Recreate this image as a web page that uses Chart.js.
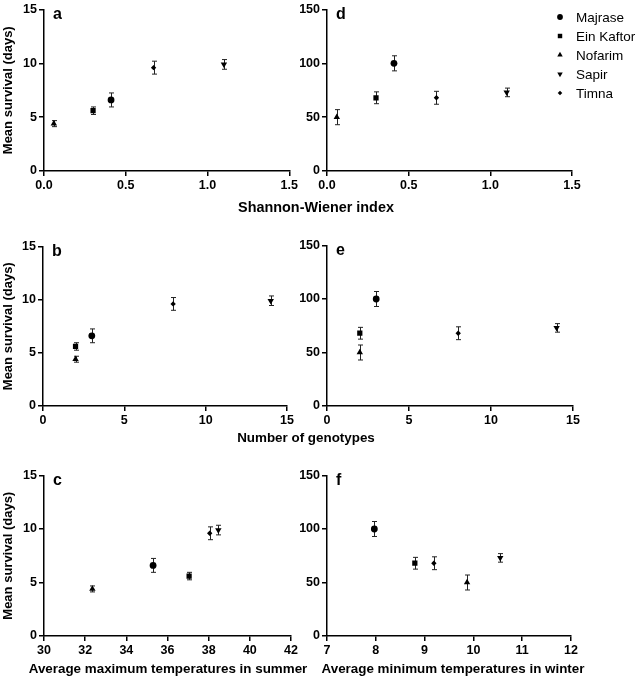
<!DOCTYPE html>
<html>
<head>
<meta charset="utf-8">
<script src="https://cdn.jsdelivr.net/npm/chart.js@4.4.1/dist/chart.umd.min.js"></script>
<style>
  html, body { margin: 0; padding: 0; background: #fff; }
  #wrap { position: relative; width: 638px; height: 678px; overflow: hidden;
          font-family: Arial, "Liberation Sans", Helvetica, sans-serif; }
  #wrap canvas { position: absolute; }
  .xtitle { position: absolute; font-weight: bold; line-height: 16px;
            color: #000; white-space: nowrap; transform: translateX(-50%); }
</style>
</head>
<body>
<div id="wrap">
  <canvas id="pa" width="300" height="200" style="left:0;top:0"></canvas>
  <canvas id="pd" width="348" height="200" style="left:290px;top:0"></canvas>
  <canvas id="pb" width="300" height="198" style="left:0;top:237px"></canvas>
  <canvas id="pe" width="348" height="199" style="left:290px;top:236px"></canvas>
  <canvas id="pc" width="300" height="212" style="left:0;top:466px"></canvas>
  <canvas id="pf" width="348" height="212" style="left:290px;top:466px"></canvas>
  <div class="xtitle" style="left:316px;top:199px;font-size:14.4px">Shannon-Wiener index</div>
  <div class="xtitle" style="left:306px;top:430px;font-size:13.4px">Number of genotypes</div>
  <div class="xtitle" style="left:168px;top:661px;font-size:13.4px">Average maximum temperatures in summer</div>
  <div class="xtitle" style="left:453px;top:661px;font-size:13.4px">Average minimum temperatures in winter</div>
</div>
<script>
// sites, in legend order
const sites = ['Majrase', 'Ein Kaftor', 'Nofarim', 'Sapir', 'Timna'];

// explanatory variables per site
const shannonIndex = [0.41, 0.30, 0.06, 1.10, 0.67];
const genotypeCount = [3, 2, 2, 14, 8];
const maxTempSummer = [35.3, 37.05, 32.35, 38.47, 38.05];
const minTempWinter = [7.97, 8.80, 9.87, 10.55, 9.19];

// mean survival, left column (days) and right column, with error bars
const survivalLeft = [6.6, 5.6, 4.4, 9.9, 9.6];
const survivalLeftErr = [0.65, 0.35, 0.28, 0.45, 0.6];
const survivalRight = [100, 68, 50, 73, 68];
const survivalRightErr = [7, 5.5, 7, 4, 6];

// tick labels
const yTicksLeft = [0, 5, 10, 15];
const yTicksRight = [0, 50, 100, 150];
const shannonTicks = [0, 0.5, 1, 1.5];
const genotypeTicks = [0, 5, 10, 15];
const maxTempTicks = [30, 32, 34, 36, 38, 40, 42];
const minTempTicks = [7, 8, 9, 10, 11, 12];

// one marker per site
const markers = [
  { pointStyle: 'circle', radius: 3.4, rotation: 0 },
  { pointStyle: 'rect', radius: 3.7, rotation: 0 },
  { pointStyle: 'triangle', radius: 3.7, rotation: 0 },
  { pointStyle: 'triangle', radius: 3.7, rotation: 180 },
  { pointStyle: 'rectRot', radius: 2.7, rotation: 0 }
];

const FONT = 'Arial, "Liberation Sans", Helvetica, sans-serif';

// vertical error bars with caps, drawn under the markers
const errorBars = {
  id: 'errorBars',
  beforeDatasetsDraw(chart) {
    const ctx = chart.ctx, xs = chart.scales.x, ys = chart.scales.y;
    ctx.save();
    ctx.strokeStyle = '#222';
    ctx.lineWidth = 1;
    chart.data.datasets.forEach(ds => {
      ds.data.forEach(p => {
        const x = Math.round(xs.getPixelForValue(p.x)) + 0.5;
        const y1 = ys.getPixelForValue(p.y - p.err);
        const y2 = ys.getPixelForValue(p.y + p.err);
        ctx.beginPath();
        ctx.moveTo(x, y1); ctx.lineTo(x, y2);
        ctx.moveTo(x - 2.5, y1); ctx.lineTo(x + 2.5, y1);
        ctx.moveTo(x - 2.5, y2); ctx.lineTo(x + 2.5, y2);
        ctx.stroke();
      });
    });
    ctx.restore();
  }
};

// panel letter and optional legend
const panelText = {
  id: 'panelText',
  afterDraw(chart, args, opts) {
    const ctx = chart.ctx, a = chart.chartArea;
    ctx.save();
    ctx.fillStyle = '#000';
    ctx.textBaseline = 'alphabetic';
    ctx.font = 'bold 16px ' + FONT;
    ctx.fillText(opts.letter, a.left + 9, a.top + 9);
    if (opts.legend) {
      ctx.font = '13.5px ' + FONT;
      ctx.textBaseline = 'middle';
      chart.data.datasets.forEach((ds, i) => {
        const y = opts.legend.y + i * opts.legend.step;
        Chart.helpers.drawPoint(ctx, {
          pointStyle: ds.pointStyle, rotation: ds.rotation,
          radius: ds.pointRadius * 0.85, borderWidth: 0
        }, opts.legend.x, y);
        ctx.fillStyle = '#000';
        ctx.fillText(ds.label, opts.legend.x + 16, y + 1);
      });
    }
    ctx.restore();
  }
};

function axis(ticks, cfg) {
  return {
    type: 'linear',
    min: ticks[0],
    max: ticks[ticks.length - 1],
    afterBuildTicks: s => { s.ticks = ticks.map(v => ({ value: v })); },
    afterFit: cfg.fit,
    ticks: {
      color: '#000',
      padding: cfg.pad,
      font: { family: FONT, size: 12.5, weight: 'bold' },
      callback: cfg.fmt || (v => String(v))
    },
    grid: { drawOnChartArea: false, drawTicks: true, tickLength: 5, color: '#000', lineWidth: 1.5 },
    border: { display: true, color: '#000', width: 1.5 },
    title: {
      display: !!cfg.title,
      text: cfg.title || '',
      color: '#000',
      font: { family: FONT, size: cfg.titleSize || 13, weight: 'bold' },
      padding: cfg.titlePad || 0
    }
  };
}

function panel(id, letter, xVals, xTicks, yVals, yErrs, yTicks, o) {
  const datasets = sites.map((name, i) => ({
    label: name,
    data: [{ x: xVals[i], y: yVals[i], err: yErrs[i] }],
    pointStyle: markers[i].pointStyle,
    rotation: markers[i].rotation,
    pointRadius: markers[i].radius,
    backgroundColor: '#000',
    borderColor: '#000',
    borderWidth: 0,
    showLine: false
  }));
  new Chart(document.getElementById(id), {
    type: 'scatter',
    data: { datasets },
    options: {
      responsive: false,
      animation: false,
      devicePixelRatio: 1,
      layout: { padding: { top: 7, right: o.padRight, left: 0, bottom: 0 } },
      scales: {
        x: axis(xTicks, {
          pad: 2, fmt: o.xFmt,
          fit: s => { s.height = o.xHeight; }
        }),
        y: axis(yTicks, {
          pad: 2, title: o.yTitle, titleSize: 13, titlePad: { top: 1, bottom: 0 },
          fit: s => { s.width = o.yWidth; }
        })
      },
      plugins: {
        legend: { display: false },
        tooltip: { enabled: false },
        panelText: { letter, legend: o.legend }
      }
    },
    plugins: [errorBars, panelText]
  });
}

const oneDecimal = v => v.toFixed(1);

panel('pa', 'a', shannonIndex, shannonTicks, survivalLeft, survivalLeftErr, yTicksLeft,
  { yWidth: 44, padRight: 10, xHeight: 29, xFmt: oneDecimal, yTitle: 'Mean survival (days)' });
panel('pd', 'd', shannonIndex, shannonTicks, survivalRight, survivalRightErr, yTicksRight,
  { yWidth: 37, padRight: 66, xHeight: 29, xFmt: oneDecimal,
    legend: { x: 270, y: 17, step: 19 } });
panel('pb', 'b', genotypeCount, genotypeTicks, survivalLeft, survivalLeftErr, yTicksLeft,
  { yWidth: 43, padRight: 13, xHeight: 29, yTitle: 'Mean survival (days)' });
panel('pe', 'e', genotypeCount, genotypeTicks, survivalRight, survivalRightErr, yTicksRight,
  { yWidth: 37, padRight: 65, xHeight: 29 });
panel('pc', 'c', maxTempSummer, maxTempTicks, survivalLeft, survivalLeftErr, yTicksLeft,
  { yWidth: 44, padRight: 9, xHeight: 42, yTitle: 'Mean survival (days)' });
panel('pf', 'f', minTempWinter, minTempTicks, survivalRight, survivalRightErr, yTicksRight,
  { yWidth: 37, padRight: 67, xHeight: 42 });
</script>
</body>
</html>
